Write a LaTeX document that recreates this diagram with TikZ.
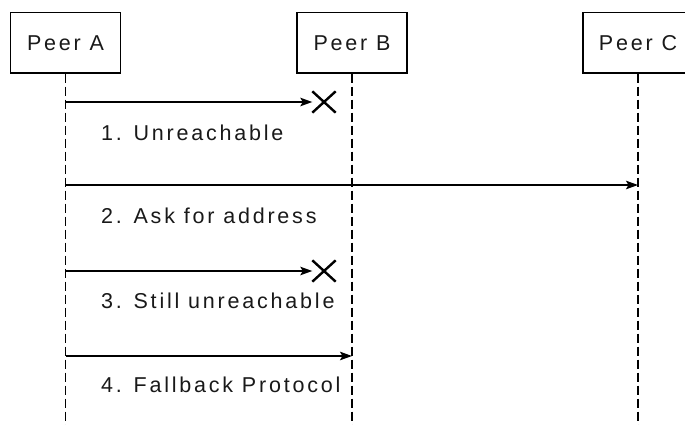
\documentclass[tikz,border=0pt]{standalone}
\usepackage{fontspec}
\setmainfont{Liberation Sans}[LetterSpace=13]
\usetikzlibrary{arrows.meta,shapes.misc}
\begin{document}
\begin{tikzpicture}[x=1pt,y=-1pt,
  every node/.style={text=black!90, font=\fontsize{21.5}{26}\selectfont},
  peerbox/.style={draw, line width=1.4pt, minimum width=110, minimum height=60.5, inner sep=0, text depth=0pt},
  lifeline/.style={line width=1.5pt, dash pattern=on 9pt off 4pt},
  msg/.style={line width=1.6pt, -{Stealth[length=12,width=8.5,inset=2.5]}},
  lost/.style={cross out, draw, line width=2.4pt, minimum width=21, minimum height=19, inner sep=0},
  msglabel/.style={anchor=base west, inner sep=0}]
\useasboundingbox (0,0) rectangle (685,425);

% participants
\node[peerbox] (A) at (65.5,42.75) {Peer A};
\node[peerbox] (B) at (352,42.75) {Peer B};
\node[peerbox] (C) at (638,42.75) {Peer C};

% lifelines
\coordinate (Aend) at (65.5,428);
\coordinate (Bend) at (352,428);
\coordinate (Cend) at (638,428);
\draw[lifeline] (A.south) -- (Aend);
\draw[lifeline] (B.south) -- (Bend);
\draw[lifeline] (C.south) -- (Cend);

% message end points on the lifelines
\coordinate (a1) at (65.5,102);
\coordinate (a2) at (65.5,185);
\coordinate (c2) at (638,185);
\coordinate (a3) at (65.5,271);
\coordinate (a4) at (65.5,356);
\coordinate (b4) at (352,356);

% lost messages end in a cross
\node[lost] (x1) at (324,102) {};
\node[lost] (x3) at (324,271) {};

\draw[msg] (a1) -- (x1.west);
\draw[msg] (a2) -- (c2);
\draw[msg] (a3) -- (x3.west);
\draw[msg] (a4) -- (b4);

% message labels
\node[msglabel] (l1) at (101,140) {1. Unreachable};
\node[msglabel] (l2) at (101,223) {2. Ask for address};
\node[msglabel] (l3) at (101,308) {3. Still unreachable};
\node[msglabel] (l4) at (101,392) {4. Fallback Protocol};
\end{tikzpicture}
\end{document}
